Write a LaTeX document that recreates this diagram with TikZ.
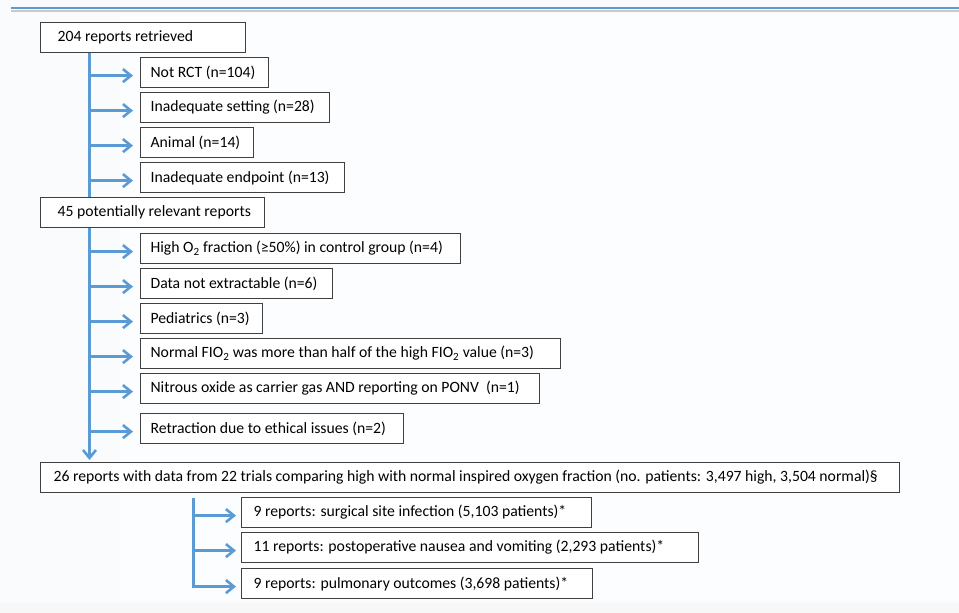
\documentclass[tikz,border=0pt]{standalone}
\usepackage{fontspec}
\setmainfont{Carlito}
\usetikzlibrary{arrows.meta,calc}
\definecolor{flowblue}{RGB}{91,155,213}
\definecolor{bordergray}{RGB}{64,64,64}
\definecolor{bgcol}{RGB}{250,251,253}
\definecolor{shadowgray}{RGB}{200,200,205}
\newcommand{\lft}[2]{\makebox[#1pt][l]{#2}}
\begin{document}
\begin{tikzpicture}[x=1pt,y=-1pt,
  box/.style={draw=bordergray, line width=1.2pt, fill=white, anchor=north west,
    minimum height=30pt, inner ysep=0pt, font=\fontsize{15.7}{18}\selectfont},
  padA/.style={inner xsep=17pt},
  padB/.style={inner xsep=10pt},
  flow/.style={draw=flowblue, line width=3pt},
  flowarrow/.style={flow, -{Straight Barb[length=8pt,width=13pt,line width=2.6pt]}}
]
\useasboundingbox (0,0) rectangle (959,613);
\fill[bgcol] (0,0) rectangle (959,613);
\fill[white!50!bgcol] (120,15) rectangle (959,600);
\fill[shadowgray!15] (0,603) rectangle (959,613);
% top rule
\draw[shadowgray, line width=2pt] (11,10.5) -- (959,10.5);
\draw[flowblue, line width=2.5pt] (11,8) -- (959,8);

% trunk coordinates
\coordinate (trunk) at (89.5,0);
\coordinate (trunkB) at (193,0);

% trunk line (drawn before boxes so boxes cover it)
\coordinate (t1) at (89.5,53);
\coordinate (t2) at (89.5,460);
\draw[flowarrow] (t1) -- (t2);

% main boxes
\node[box,padA] (b1) at (40,22) {\lft{171}{204 reports retrieved}};
\node[box,padB] (e1) at (140,57) {\lft{108}{Not RCT (n=104)}};
\node[box,padB] (e2) at (140,92) {\lft{169}{Inadequate setting (n=28)}};
\node[box,padB] (e3) at (140,127) {\lft{93}{Animal (n=14)}};
\node[box,padB] (e4) at (140,162) {\lft{184}{Inadequate endpoint (n=13)}};
\node[box,padA] (b2) at (40,197) {\lft{190}{45 potentially relevant reports}};
\node[box,padB] (f1) at (140,233) {\lft{300}{High O\textsubscript{2} fraction (≥50\%) in control group (n=4)}};
\node[box,padB] (f2) at (140,268) {\lft{172}{Data not extractable (n=6)}};
\node[box,padB] (f3) at (140,303) {\lft{102}{Pediatrics (n=3)}};
\node[box,padB] (f4) at (140,338) {\lft{400}{Normal FIO\textsubscript{2} was more than half of the high FIO\textsubscript{2} value (n=3)}};
\node[box,padB] (f5) at (140,373) {\lft{379}{Nitrous oxide as carrier gas AND reporting on PONV\ \ (n=1)}};
\node[box,padB] (f6) at (140,413) {\lft{243}{Retraction due to ethical issues (n=2)}};
\node[box,inner xsep=13pt] (big) at (40,462) {\lft{833}{26 reports with data from 22 trials comparing high with normal inspired oxygen fraction (no. patients: 3,497 high, 3,504 normal)§}};
\node[box,inner xsep=12pt] (o1) at (241,497) {\lft{326}{9 reports: surgical site infection (5,103 patients)*}};
\node[box,inner xsep=12pt] (o2) at (241,532) {\lft{433}{11 reports: postoperative nausea and vomiting (2,293 patients)*}};
\node[box,inner xsep=12pt] (o3) at (241,568) {\lft{327}{9 reports: pulmonary outcomes (3,698 patients)*}};

% branch arrows
\foreach \n in {e1,e2,e3,e4,f1,f2,f3,f4,f5,f6}{
  \draw[flowarrow] ($(trunk |- \n.west)+(-1.5,3)$) -- ($(\n.west)+(-7,3)$);
}
% second trunk
\draw[flow] ($(big.south -| trunkB)+(0,5)$) -- ($(trunkB |- o3.west)+(0,4.5)$);
\foreach \n in {o1,o2,o3}{
  \draw[flowarrow] ($(trunkB |- \n.west)+(-1.5,3)$) -- ($(\n.west)+(-5,3)$);
}
\end{tikzpicture}
\end{document}
